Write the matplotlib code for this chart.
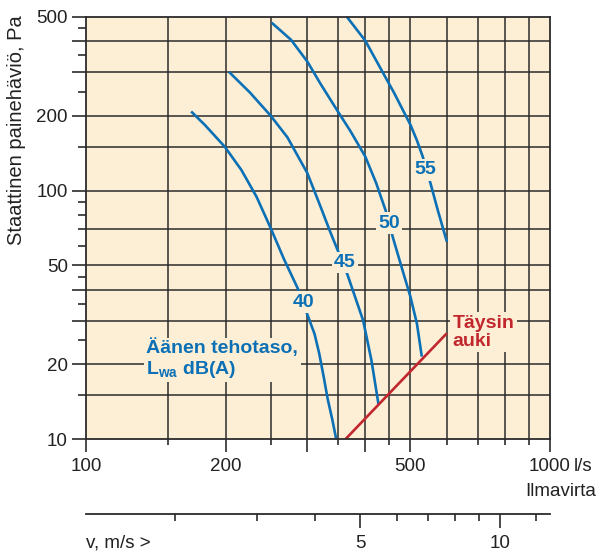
import matplotlib
matplotlib.use("Agg")
import matplotlib.pyplot as plt
import matplotlib.ticker as mticker

plt.rcParams['font.family'] = ['Liberation Sans', 'DejaVu Sans']
plt.rcParams['mathtext.fontset'] = 'custom'
plt.rcParams['mathtext.rm'] = 'Liberation Sans'
plt.rcParams['mathtext.bf'] = 'Liberation Sans:bold'

# sound power curves: air flow (l/s) vs static pressure drop (Pa)
c40_q = [168.5, 180.4, 199.1, 216.2, 233.1, 250, 267.1, 286.2, 300.6, 310.9,
         318.2, 325.6, 331.7, 339.4, 346.2]
c40_p = [208, 183.5, 150, 121, 94.4, 70.7, 53, 40.3, 31.4, 26.5,
         22.1, 17.66, 14.56, 12.03, 10]
c45_q = [203.3, 225.5, 250, 271.8, 300, 320.6, 335.7, 348.9, 366.2, 395.7,
         412.3, 427.2]
c45_p = [300, 248, 200, 163.5, 117.4, 85.7, 68.5, 57.4, 45.8, 30,
         20.75, 13.73]
c50_q = [251.3, 276.6, 300, 320.6, 350, 371.6, 400, 422.1, 442.5, 459.2,
         480.1, 500.5, 516.8, 529.3]
c50_p = [473, 403.7, 329.8, 267.6, 206.2, 173.2, 136.8, 107.1, 83, 64.2,
         48.4, 37.3, 29.1, 21.5]
c55_q = [364.8, 400, 432.1, 460.8, 500.5, 516.8, 531.8, 552.5, 573.4, 599.5]
c55_p = [500, 400, 308, 248, 183.5, 158.9, 136.8, 107.1, 83, 62.2]
# "Täysin auki" (fully open) line
open_q = [362.2, 599.5]
open_p = [10, 26.7]

curve_labels = ['40', '45', '50', '55']
label_q = [293.9, 361.6, 449.4, 538]
label_p = [35.6, 51.3, 74, 121]

x_grid = [150, 200, 250, 300, 350, 400, 450, 500, 600, 700, 800, 900]
y_grid = [15, 20, 30, 40, 50, 70, 100, 150, 200, 300, 400]
x_major = [100, 200, 300, 400, 500, 1000]
x_major_labels = ['100', '200', '', '', '500', '1000']
x_minor = [150, 250, 350, 450, 600, 700, 800, 900]
y_major = [10, 20, 30, 40, 50, 100, 200, 300, 400, 500]
y_major_labels = ['10', '20', '', '', '50', '100', '200', '', '', '500']
y_minor = [15, 25, 35, 45, 60, 70, 80, 90, 150, 250, 350, 450]

v_major = [5, 10]
v_minor = [2, 3, 4, 6, 7, 8, 9, 12]
duct_area = 77.93  # l/s per m/s  (Ø315)

blue = '#0b70b5'
red = '#c1272d'
beige = '#fdefd6'
dark = '#2b2b2b'
txtc = '#222222'

W, H = 599, 558
fig = plt.figure(figsize=(W / 100, H / 100), dpi=100)
ax = fig.add_axes([86 / W, 1 - 439.3 / H, 464 / W, 422.6 / H])
ax.set_facecolor(beige)
ax.set_xscale('log')
ax.set_yscale('log')
ax.set_xlim(100, 1000)
ax.set_ylim(10, 500)

for x in x_grid:
    ax.axvline(x, color=dark, lw=1.1, zorder=1)
for y in y_grid:
    ax.axhline(y, color=dark, lw=1.1, zorder=1)

for q, p in [(c40_q, c40_p), (c45_q, c45_p), (c50_q, c50_p), (c55_q, c55_p)]:
    ax.plot(q, p, color=blue, lw=1.9, zorder=3, solid_capstyle='butt')
ax.plot(open_q, open_p, color=red, lw=1.9, zorder=3, solid_capstyle='butt')

for txt, q, p in zip(curve_labels, label_q, label_p):
    ax.text(q, p, txt, color=blue, fontsize=14, fontweight='bold',
            ha='center', va='center', zorder=4,
            bbox=dict(facecolor=beige, edgecolor='none', pad=1.5))

ax.text(135, 21, 'Äänen tehotaso,\n$\\mathbf{L_{wa}}$ dB(A)', color=blue,
        fontsize=14, fontweight='bold', ha='left', va='center',
        linespacing=1.1, zorder=4,
        bbox=dict(facecolor=beige, edgecolor='none', pad=2))
ax.text(616, 26.9, 'Täysin\nauki', color=red, fontsize=14, fontweight='bold',
        ha='left', va='center', linespacing=1.05, zorder=4,
        bbox=dict(facecolor=beige, edgecolor='none', pad=2))

for s in ax.spines.values():
    s.set_color(dark)
    s.set_linewidth(1.3)
    s.set_zorder(5)

ax.xaxis.set_major_locator(mticker.FixedLocator(x_major))
ax.xaxis.set_major_formatter(mticker.FixedFormatter(x_major_labels))
ax.xaxis.set_minor_locator(mticker.FixedLocator(x_minor))
ax.xaxis.set_minor_formatter(mticker.NullFormatter())
ax.yaxis.set_major_locator(mticker.FixedLocator(y_major))
ax.yaxis.set_major_formatter(mticker.FixedFormatter(y_major_labels))
ax.yaxis.set_minor_locator(mticker.FixedLocator(y_minor))
ax.yaxis.set_minor_formatter(mticker.NullFormatter())

ax.tick_params(axis='x', which='major', length=9.5, width=1.2, color=dark,
               labelsize=13.5, pad=4, labelcolor=txtc)
ax.tick_params(axis='x', which='minor', length=4.5, width=1.2, color=dark)
ax.tick_params(axis='y', which='major', length=10, width=1.2, color=dark,
               labelsize=13.5, pad=3, labelcolor=txtc)
ax.tick_params(axis='y', which='minor', length=5.5, width=1.2, color=dark)

# velocity scale below the chart
vax = fig.add_axes([86 / W, 1 - 514.3 / H, 464 / W, 0.0001])
vax.set_xscale('log')
vax.set_xlim(100 / duct_area, 1000 / duct_area)
vax.patch.set_visible(False)
vax.yaxis.set_visible(False)
for side in ['top', 'left', 'right']:
    vax.spines[side].set_visible(False)
vax.spines['bottom'].set_color(dark)
vax.spines['bottom'].set_linewidth(1.3)
vax.xaxis.set_major_locator(mticker.FixedLocator(v_major))
vax.xaxis.set_major_formatter(mticker.FixedFormatter([str(v) for v in v_major]))
vax.xaxis.set_minor_locator(mticker.FixedLocator(v_minor))
vax.xaxis.set_minor_formatter(mticker.NullFormatter())
vax.tick_params(which='major', length=10, width=1.2, color=dark,
                labelsize=13.5, pad=5, labelcolor=txtc)
vax.tick_params(which='minor', length=5, width=1.2, color=dark)

fig.text(17 / W, 1 - 15 / H, 'Staattinen painehäviö, Pa', rotation=90,
         ha='center', va='top', fontsize=14.5, color=txtc)
fig.text(574 / W, 1 - 466.7 / H, 'l/s', ha='left', va='center',
         fontsize=13.5, color=txtc)
fig.text(596 / W, 1 - 491.7 / H, 'Ilmavirta', ha='right', va='center',
         fontsize=13.5, color=txtc)
fig.text(86 / W, 1 - 543 / H, 'v, m/s >', ha='left', va='center',
         fontsize=13.5, color=txtc)

fig.savefig('out.png', dpi=100)
